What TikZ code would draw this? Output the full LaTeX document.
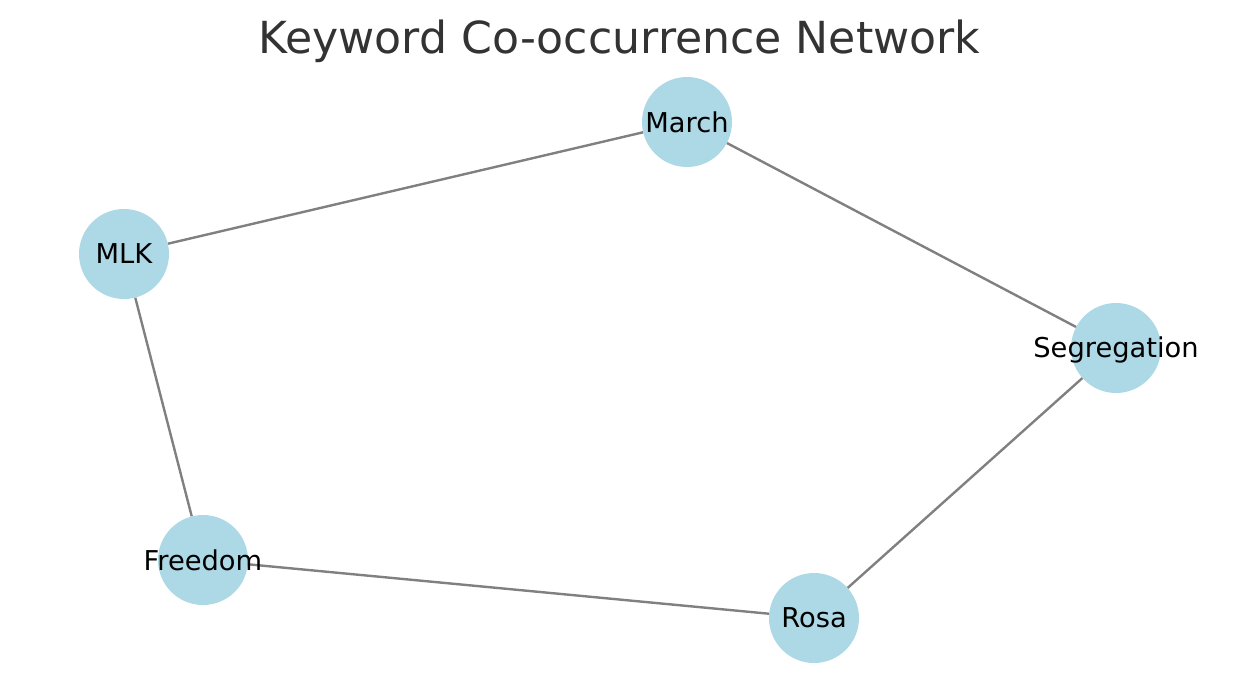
\documentclass[tikz,border=0pt]{standalone}
\usepackage{fontspec}
\setmainfont{DejaVu Sans}
\definecolor{nodeblue}{HTML}{ADD8E6}
\definecolor{edgegray}{HTML}{808080}
\definecolor{titlegray}{HTML}{333333}
\begin{document}
\begin{tikzpicture}[x=1pt,y=-1pt,
  kw/.style={circle,fill=nodeblue,minimum size=90pt,inner sep=0pt},
  lbl/.style={font=\fontsize{27.3}{30}\selectfont,text=black,inner sep=0pt},
  edge/.style={draw=edgegray,line width=2.4pt}]
\useasboundingbox (0,0) rectangle (1239,690);
\node[font=\fontsize{44.2}{50}\selectfont,text=titlegray,inner sep=0pt] (title) at (619.5,41.5) {Keyword Co-occurrence Network};
\node[kw] (march) at (687,122) {};
\node[kw] (mlk) at (124,254) {};
\node[kw] (seg) at (1116,348) {};
\node[kw] (free) at (203,560) {};
\node[kw] (rosa) at (814,618) {};
\draw[edge] (march) -- (mlk);
\draw[edge] (march) -- (seg);
\draw[edge] (mlk) -- (free);
\draw[edge] (free) -- (rosa);
\draw[edge] (rosa) -- (seg);
\node[lbl] (lmarch) at (march) {March};
\node[lbl] (lmlk) at (mlk) {MLK};
\node[lbl] (lseg) at ([yshift=-1.5pt]seg.center) {Segregation};
\node[lbl] (lfree) at (free) {Freedom};
\node[lbl] (lrosa) at (rosa) {Rosa};
\end{tikzpicture}
\end{document}
